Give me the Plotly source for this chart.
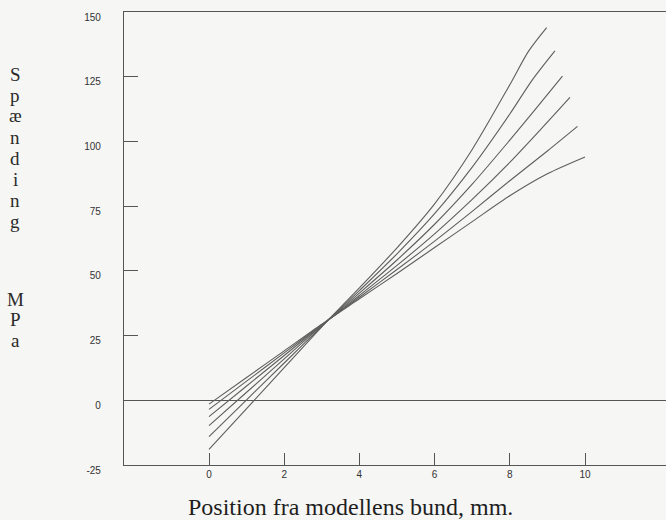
import plotly.graph_objects as go

# ---- data ----
x_L1 = [0, 1, 2, 3, 4, 5, 6, 7, 8, 8.5, 8.98]
y_L1 = [-19, -3.2, 12.6, 28.4, 43.4, 58.9, 75.9, 96.9, 121.9, 134.9, 144]

x_L2 = [0, 1, 2, 3, 4, 5, 6, 7, 8, 8.6, 9.2]
y_L2 = [-14, 0.2, 14.4, 28.6, 42.4, 56.6, 72.1, 90.1, 110.6, 123.8, 135]

x_L3 = [0, 1, 2, 3, 4, 5, 6, 7, 8, 8.7, 9.4]
y_L3 = [-9.8, 3.1, 16, 28.9, 41.4, 54.2, 68, 83.5, 100.5, 112.8, 125.2]

x_L4 = [0, 1, 2, 3, 4, 5, 6, 7, 8, 8.8, 9.6]
y_L4 = [-6.3, 5.5, 17.3, 29.1, 40.5, 52.1, 64.3, 77.6, 91.9, 104.3, 117]

x_L5 = [0, 1, 2, 3, 4, 5, 6, 7, 8, 9, 9.8]
y_L5 = [-3.5, 7.4, 18.3, 29.2, 39.8, 50.5, 61.5, 73, 84.8, 96.3, 105.8]

x_L6 = [0, 1, 2, 3, 4, 5, 6, 7, 8, 9, 10]
y_L6 = [-1.5, 8.8, 19.1, 29.4, 39.2, 49, 59, 69, 79, 87.5, 94]

x_ticks = [0, 2, 4, 6, 8, 10]
y_ticks = [-25, 0, 25, 50, 75, 100, 125, 150]

ylabel_top = ["S", "p", "æ", "n", "d", "i", "n", "g"]
ylabel_bottom = ["M", "P", "a"]
xlabel = "Position fra modellens bund, mm."

series = [(x_L1, y_L1), (x_L2, y_L2), (x_L3, y_L3),
          (x_L4, y_L4), (x_L5, y_L5), (x_L6, y_L6)]

W, H = 666, 520
ML, MR, MT, MB = 124, 0, 12, 55
PW, PH = W - ML - MR, H - MT - MB

line_col = "#5e5e5e"
axis_col = "#555555"
bg = "#f6f6f4"

fig = go.Figure()
for xs, ys in series:
    fig.add_trace(go.Scatter(x=xs, y=ys, mode="lines",
                             line=dict(color=line_col, width=1.1, shape="spline", smoothing=0.8),
                             showlegend=False, hoverinfo="skip"))

def px_to_paper_y(ypx):
    return (H - MB - ypx) / PH

def px_to_paper_x(xpx):
    return (xpx - ML) / PW

serif = "Liberation Serif, Times New Roman, serif"
annotations = []
for i, ch in enumerate(ylabel_top):
    annotations.append(dict(text=ch, x=px_to_paper_x(15), y=px_to_paper_y(74 + 21 * i),
                            xref="paper", yref="paper", xanchor="center", yanchor="middle",
                            showarrow=False, font=dict(family=serif, size=19, color="#2a2a2a")))
for j, ch in enumerate(ylabel_bottom):
    annotations.append(dict(text=ch, x=px_to_paper_x(15), y=px_to_paper_y(299 + 21 * j),
                            xref="paper", yref="paper", xanchor="center", yanchor="middle",
                            showarrow=False, font=dict(family=serif, size=19, color="#2a2a2a")))
annotations.append(dict(text=xlabel, x=px_to_paper_x(350), y=px_to_paper_y(507),
                        xref="paper", yref="paper", xanchor="center", yanchor="middle",
                        showarrow=False, font=dict(family=serif, size=24, color="#1e1e1e")))

fig.update_layout(
    width=W, height=H,
    margin=dict(l=ML, r=MR, t=MT, b=MB, pad=0),
    paper_bgcolor=bg, plot_bgcolor=bg,
    annotations=annotations,
    xaxis=dict(range=[(ML - 209) / 37.6, (W - 209) / 37.6],
               tickmode="array", tickvals=x_ticks, ticktext=[str(v) for v in x_ticks],
               ticks="inside", ticklen=12, tickcolor=axis_col, tickwidth=1,
               showline=True, linecolor=axis_col, linewidth=1.2, mirror=True,
               showgrid=False, zeroline=False,
               tickfont=dict(family="Liberation Sans, Arial, sans-serif", size=10, color="#333")),
    yaxis=dict(range=[-25, 150],
               tickmode="array", tickvals=y_ticks, ticktext=[str(v) for v in y_ticks],
               ticks="inside", ticklen=14, tickcolor=axis_col, tickwidth=1,
               showline=True, linecolor=axis_col, linewidth=1.2, mirror=False,
               showgrid=False, zeroline=True, zerolinecolor=axis_col, zerolinewidth=1.2,
               ticklabelstandoff=20, ticklabelshift=5,
               tickfont=dict(family="Liberation Sans, Arial, sans-serif", size=10, color="#333")),
)

fig.write_html("out.html")
